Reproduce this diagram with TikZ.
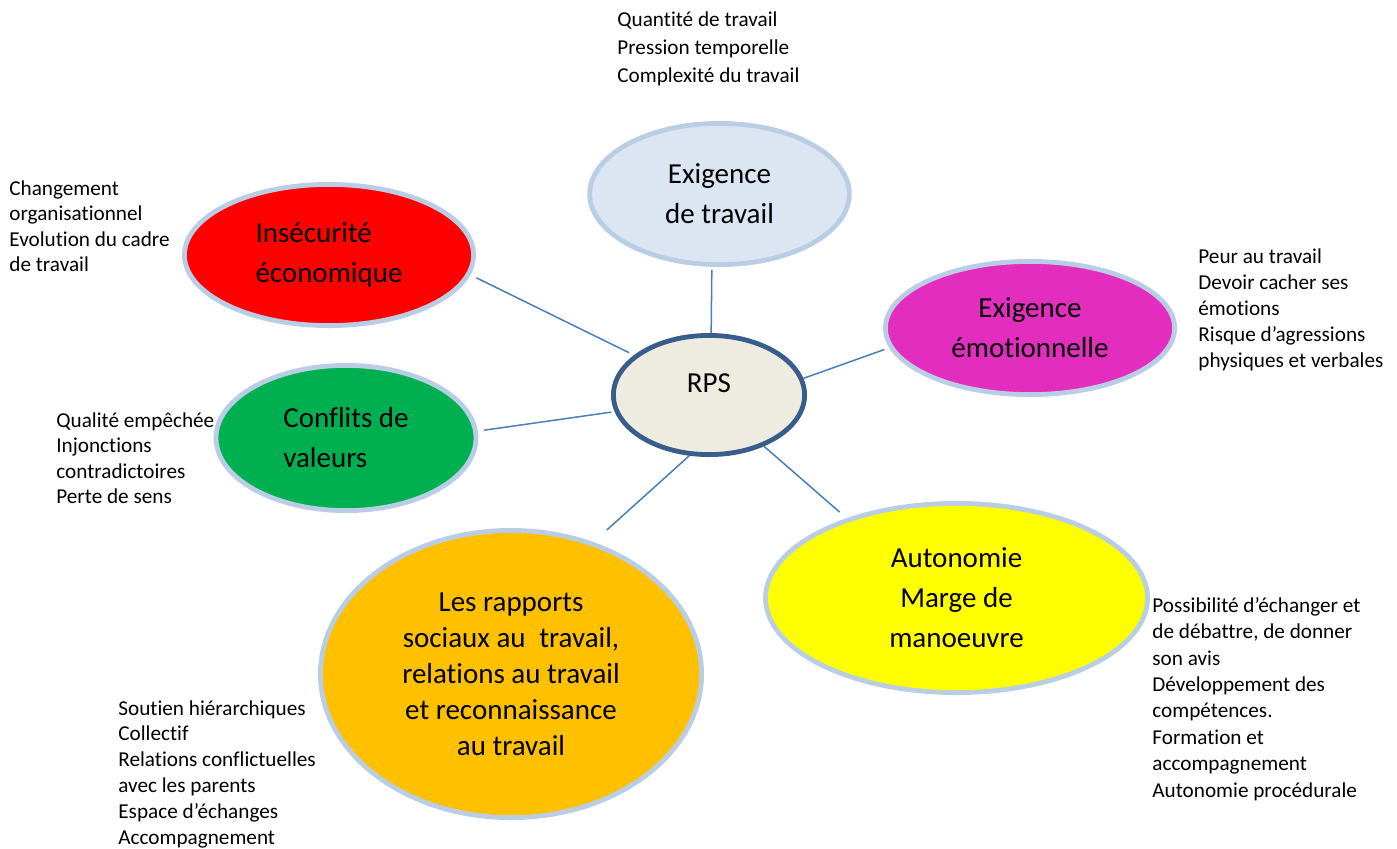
\documentclass[tikz,border=0pt]{standalone}
\usepackage{fontspec}
\setmainfont{Carlito}[Ligatures=NoCommon]
\usepackage{tikz}
\usetikzlibrary{shapes.geometric}

\definecolor{bubbleEdge}{HTML}{B9CDE5}
\definecolor{hubEdge}{HTML}{385D8A}
\definecolor{hubFill}{HTML}{EEECE1}
\definecolor{exigFill}{HTML}{DCE6F2}
\definecolor{linkBlue}{HTML}{4A7EBB}
\definecolor{emoPink}{HTML}{E32DBF}
\definecolor{conflGreen}{HTML}{00B050}
\definecolor{rappOrange}{HTML}{FFC000}
\definecolor{autoYellow}{HTML}{FFFF00}

\begin{document}
\begin{tikzpicture}[x=0.5pt, y=-0.5pt]
  \tikzstyle{bubble} = [ellipse, draw=bubbleEdge, line width=2.4pt, inner sep=0pt, align=center, font={\fontsize{14.5}{20}\selectfont}]
  \tikzstyle{hub} = [bubble, draw=hubEdge, fill=hubFill]
  \tikzstyle{note} = [anchor=north west, inner sep=0pt, align=left, font={\fontsize{10.6}{13}\selectfont}]
  \tikzstyle{link} = [draw=linkBlue, line width=0.75pt]

  \useasboundingbox (0,0) rectangle (1397,848);

  \node[hub, minimum width=95.6pt, minimum height=59.6pt] (RPS) at (709,395) {\raisebox{6pt}[\height][\depth]{RPS}};
  \node[bubble, fill=exigFill, minimum width=129.8pt, minimum height=70.6pt] (exig) at (719.5,194) {Exigence\\de travail};
  \node[bubble, fill=red, align=left, minimum width=144.6pt, minimum height=70.6pt] (insec) at (329,255) {Insécurité\\économique};
  \node[bubble, fill=emoPink, minimum width=144.6pt, minimum height=66.6pt] (emo) at (1030,328) {Exigence\\émotionnelle};
  \node[bubble, fill=conflGreen, align=left, minimum width=130pt, minimum height=72.6pt] (confl) at (346,438) {Conflits de\\valeurs};
  \node[bubble, fill=rappOrange, font={\fontsize{14.5}{18}\selectfont}, minimum width=190.6pt, minimum height=143.6pt] (rapp) at (511,674) {Les rapports\\sociaux au\hspace{0.25em} travail,\\relations au travail\\et reconnaissance\\au travail};
  \node[bubble, fill=autoYellow, minimum width=191pt, minimum height=94.6pt] (auton) at (956.5,598) {Autonomie\\Marge de\\manoeuvre};

  \node[note, font={\fontsize{10.6}{14}\selectfont}] (exigNotes) at (617,11) {Quantité de travail\\Pression temporelle\\Complexité du travail};
  \node[note, font={\fontsize{10.6}{12.8}\selectfont}] (insecNotes) at (9,180) {Changement\\organisationnel\\Evolution du cadre\\de travail};
  \node[note] (emoNotes) at (1198,248) {Peur au travail\\Devoir cacher ses\\émotions\\Risque d’agressions\\physiques et verbales};
  \node[note, font={\fontsize{10.6}{12.8}\selectfont}] (conflNotes) at (56,412) {Qualité empêchée\\Injonctions\\contradictoires\\Perte de sens};
  \node[note, font={\fontsize{10.6}{13.2}\selectfont}] (autonNotes) at (1152,597) {Possibilité d’échanger et\\de débattre, de donner\\son avis\\Développement des\\compétences.\\Formation et\\accompagnement\\Autonomie procédurale};
  \node[note, font={\fontsize{10.6}{12.9}\selectfont}] (rappNotes) at (118,700) {Soutien hiérarchiques\\Collectif\\Relations conflictuelles\\avec les parents\\Espace d’échanges\\Accompagnement};

  \path (exig.264) edge[link, shorten <=1.5pt] (RPS.88)
        (insec.-8) edge[link, shorten <=3.3pt, shorten >=2.7pt] (RPS.152.6)
        (RPS.10) edge[link, shorten >=2.5pt] (emo.188.3)
        (confl.3.9) edge[link, shorten <=3.2pt, shorten >=1.7pt] (RPS.190.8)
        (rapp.58.9) edge[link, shorten <=9pt] (RPS.252.3)
        (RPS.-43) edge[link, shorten >=4.6pt] (auton.144.7);
\end{tikzpicture}
\end{document}
